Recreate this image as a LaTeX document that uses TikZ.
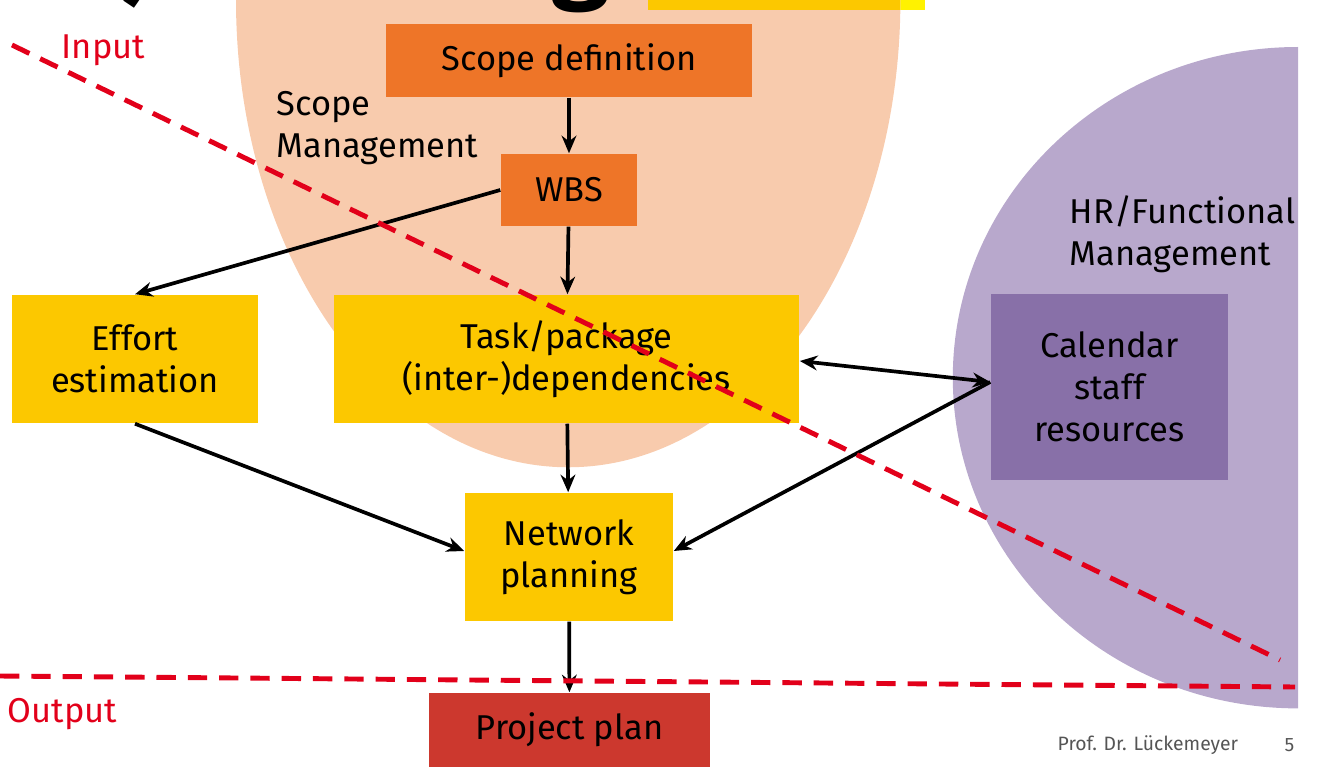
\documentclass[tikz,border=0pt]{standalone}
\usepackage{fontspec}
\setmainfont{Fira Sans}
\usetikzlibrary{arrows.meta}

\definecolor{scopebg}{HTML}{F8CBAD}
\definecolor{hrbg}{HTML}{B8A8CC}
\definecolor{orangebox}{HTML}{EE7528}
\definecolor{goldbox}{HTML}{FCC800}
\definecolor{redbox}{HTML}{CC382E}
\definecolor{purplebox}{HTML}{8870A8}
\definecolor{linered}{HTML}{E2001A}
\definecolor{footgray}{HTML}{555555}

\tikzset{
  box/.style={inner sep=0pt, align=center, text=black},
  flow/.style={-{Stealth[length=5pt,width=4.2pt]}, line width=1.05pt},
  limit/.style={draw=linered, line width=1.4pt, dash pattern=on 5.5pt off 3.4pt},
  zone/.style={align=left, anchor=west, inner sep=0pt},
}

\begin{document}
\begin{tikzpicture}[x=0.01cm, y=-0.01cm, font=\fontsize{9.8}{12}\selectfont]
  \useasboundingbox (0,0) rectangle (1321,767);
  \clip (0,0) rectangle (1321,767);

  % zones
  \fill[yellow] (648,0) rectangle (925,10);
  \fill[scopebg] (236,0) arc[start angle=180, end angle=360, x radius=3.32cm, y radius=4.67cm] -- cycle;
  \fill[goldbox] (648,0) rectangle (900,10);
  \fill[hrbg] (1298,47) arc[start angle=90, end angle=270, x radius=3.45cm, y radius=3.305cm] -- cycle;

  % title remains
  \node[anchor=base, font=\bfseries\fontsize{30}{30}\selectfont] (ttl1) at (140,-8) {)};
  \node[anchor=base, font=\bfseries\fontsize{30}{30}\selectfont] (ttl2) at (581,-10) {g};

  \node[zone] (scopelbl) at (276,128) {Scope\\Management};
  \node[zone] (hrlbl) at (1069,234) {HR/Functional\\Management};

  % boxes
  \node[box, fill=orangebox, minimum width=3.66cm, minimum height=0.73cm] (sdef) at (569,60.5) {Scope definition};
  \node[box, fill=orangebox, minimum width=1.36cm, minimum height=0.72cm] (wbs) at (569,190) {WBS};
  \node[box, fill=goldbox, minimum width=2.46cm, minimum height=1.28cm] (effort) at (135,359) {Effort\\estimation};
  \node[box, fill=goldbox, minimum width=4.65cm, minimum height=1.28cm] (task) at (566.5,359) {Task/package\\(inter-)dependencies};
  \node[box, fill=goldbox, minimum width=2.08cm, minimum height=1.28cm] (net) at (569,557) {Network\\planning};
  \node[box, fill=redbox, minimum width=2.81cm, minimum height=0.74cm] (plan) at (569.5,730) {Project plan};
  \node[box, fill=purplebox, minimum width=2.37cm, minimum height=1.86cm] (cal) at (1109.5,387) {Calendar\\staff\\resources};

  % flow
  \draw[flow] (sdef) -- (wbs);
  \draw[flow] (wbs) -- (task);
  \draw[flow] (wbs.west) -- (effort.north);
  \draw[flow] (effort.south) -- ([yshift=0.06cm]net.west);
  \draw[flow] (task) -- (net);
  \draw[flow] (net) -- (plan);
  \draw[flow, {Stealth[length=5pt,width=4.2pt]}-{Stealth[length=5pt,width=4.2pt]}] ([yshift=-0.02cm]task.east) -- ([yshift=0.05cm]cal.west);
  \draw[flow] ([yshift=0.05cm]cal.west) -- ([yshift=0.06cm]net.east);

  % input / output limits
  \coordinate (in1) at (12,45);
  \coordinate (in2) at (1280,660);
  \coordinate (out1) at (0,676);
  \coordinate (out2) at (1295,687);
  \draw[limit] (in1) -- (in2);
  \draw[limit] (out1) -- (out2);
  \node[zone, text=linered] (inlbl) at (61,50) {Input};
  \node[zone, text=linered] (outlbl) at (7,714) {Output};

  % footer
  \node[zone, text=footgray, font=\fontsize{5.5}{6}\selectfont] (foot) at (1057,745) {Prof. Dr. Lückemeyer};
  \node[zone, text=footgray, font=\fontsize{5.5}{6}\selectfont] (page) at (1284,745) {5};
\end{tikzpicture}
\end{document}
